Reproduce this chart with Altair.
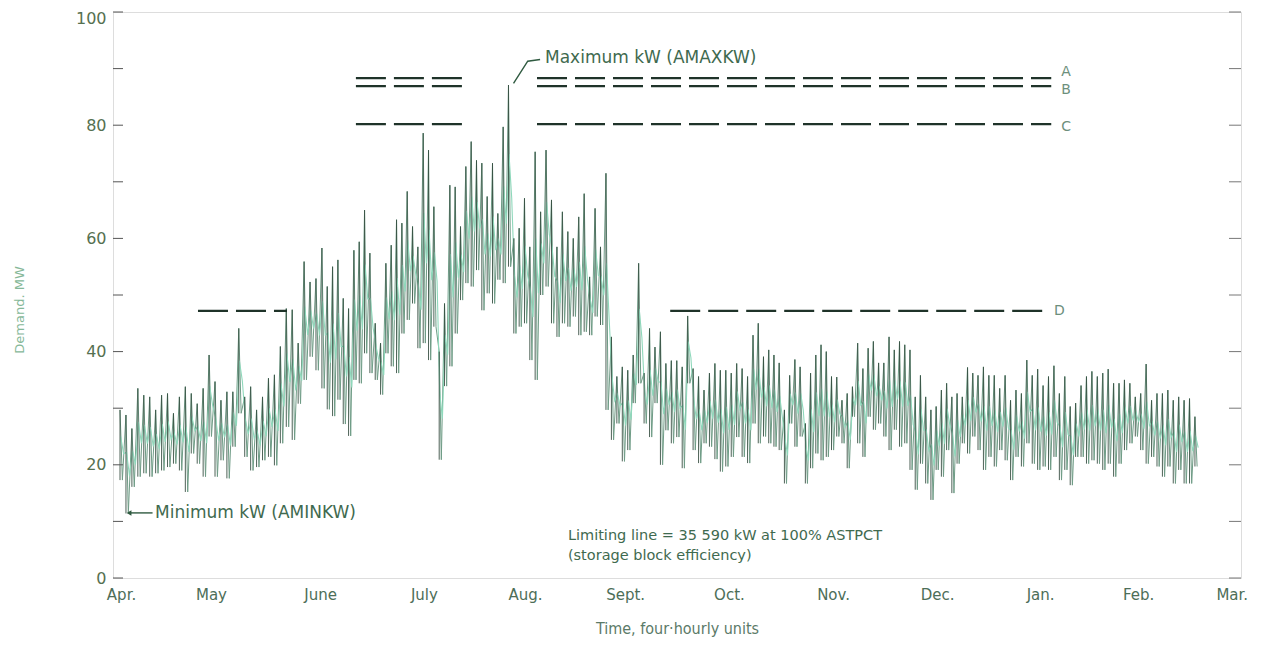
import altair as alt
import numpy as np
import pandas as pd

# ---------------- data ----------------
MONTHS = ["Apr.", "May", "June", "July", "Aug.", "Sept.", "Oct.", "Nov.",
          "Dec.", "Jan.", "Feb.", "Mar."]
MONTH_DAY = [2.6, 31.7, 67.0, 100.6, 133.3, 165.7, 199.3, 233.0, 266.7,
             300.0, 331.7, 362.0]

# daily peaks and troughs (MW), one pair per spike
HIGH = [29.7, 28.8, 26.4, 33.5, 32.3, 32.0, 29.7, 32.3, 32.6, 29.1,
        32.0, 33.8, 32.6, 30.8, 33.5, 39.4, 34.7, 31.4, 32.9, 32.9,
        44.1, 32.0, 33.8, 29.7, 32.0, 35.3, 35.9, 40.9, 47.6, 47.4,
        41.5, 55.9, 52.3, 52.9, 58.3,
        51.5, 55.0, 56.2, 49.4, 47.6, 57.9, 59.4, 65.0, 57.4, 45.0,
        41.5, 55.6, 58.8, 63.3, 62.7, 68.3, 62.1, 58.5, 78.6, 75.6,
        65.6, 40.0, 48.5, 69.4, 69.1, 62.1, 72.7, 77.1, 73.8, 73.3,
        67.4, 73.3, 64.4, 79.7, 87.1, 60.0, 61.8, 67.1, 58.5, 75.3,
        64.7, 75.6, 66.8, 58.5, 64.7, 61.2, 60.0, 63.8, 67.9, 53.2,
        65.3, 58.5, 71.5, 42.6, 35.6, 37.3, 36.7, 39.4, 55.6, 36.2,
        44.1, 40.8, 43.5, 37.9, 38.4, 38.4, 37.3, 46.3, 37.0, 35.6,
        33.2, 36.2, 37.9, 36.7, 36.7, 36.2, 37.9, 37.0, 35.6, 42.9,
        45.0, 39.1, 40.3, 39.4, 38.0, 29.7, 35.8, 38.6, 37.3, 27.3,
        36.2, 39.4, 41.2, 40.0, 35.6, 35.5, 31.4, 32.6, 33.8, 41.5,
        37.0, 40.6, 41.8, 38.0, 38.0, 42.6, 40.3, 41.8, 41.2, 40.3,
        32.0, 35.8, 32.0, 29.7, 30.3, 33.2, 34.4, 32.0, 32.6, 32.0,
        37.2, 36.2, 35.8,
        37.3, 35.8, 35.8, 33.5, 35.8, 31.4, 33.2, 32.6, 38.5, 35.8,
        36.9, 34.0, 35.6, 37.5, 32.6, 35.6, 30.3, 30.9, 34.0, 35.6,
        36.5, 35.6, 36.2, 36.9, 34.4, 34.4, 35.0, 34.4, 32.0, 32.6,
        37.8, 31.4, 32.6, 32.6, 33.2, 31.4, 32.0, 31.4, 31.7, 28.5]

LOW = [17.3, 11.4, 16.1, 17.9, 18.5, 17.9, 18.5, 19.0, 19.6, 20.2,
       19.0, 15.2, 22.0, 20.2, 17.9, 25.0, 17.9, 20.8, 17.6, 23.2,
       29.1, 21.4, 19.0, 19.6, 20.8, 21.4, 19.9, 23.8, 26.7, 24.4,
       30.8, 35.0, 39.1, 36.7, 33.5,
       29.8, 28.6, 31.5, 27.2, 25.1, 35.0, 34.4, 39.7, 36.2, 35.0,
       32.4, 39.7, 37.4, 36.2, 43.2, 45.6, 48.5, 40.6, 41.5, 38.5,
       44.4, 20.9, 33.9, 37.4, 43.2, 49.1, 52.1, 51.5, 54.4, 47.3,
       50.3, 48.5, 52.7, 52.1, 55.0, 43.2, 44.4, 45.0, 38.5, 35.0,
       50.0, 51.5, 45.0, 42.6, 45.0, 44.4, 46.2, 42.9, 43.5, 42.9,
       46.2, 44.7, 29.7, 24.4, 27.3, 20.6, 22.6, 30.9, 34.4, 27.3,
       24.9, 30.9, 20.0, 26.1, 23.8, 24.9, 19.4, 34.4, 22.6, 20.3,
       23.8, 23.2, 21.0, 18.8, 19.7, 21.4, 24.9, 21.4, 20.3, 27.3,
       23.8, 25.0, 23.8, 23.2, 22.6, 16.7, 27.3, 23.2, 25.0, 16.7,
       19.4, 22.0, 20.8, 21.4, 22.6, 25.0, 23.8, 19.4, 28.5, 23.8,
       21.4, 28.5, 26.2, 27.3, 25.0, 22.6, 26.2, 23.2, 23.8, 19.1,
       15.6, 20.2, 16.7, 13.8, 19.1, 17.9, 22.6, 15.0, 20.2, 23.8,
       22.0, 25.0, 22.6,
       19.1, 21.4, 19.7, 22.6, 20.8, 17.3, 21.4, 19.7, 23.8, 20.2,
       19.1, 19.7, 19.1, 21.4, 17.3, 19.1, 16.4, 21.4, 21.4, 20.2,
       20.8, 20.2, 19.1, 20.2, 17.9, 20.2, 22.6, 23.8, 25.0, 22.6,
       20.2, 21.4, 19.7, 17.9, 19.7, 16.7, 19.1, 16.7, 16.7, 19.7]

# time (day from Apr. 1) of a few spikes, the rest lie evenly between them
ANCHOR_SPIKE = [0, 34, 74, 114, 157, 197]
ANCHOR_DAY = [2.27, 67.6, 136.6, 207.1, 279.9, 350.1]

REF_NAMES = ["A", "B", "C", "D"]
REF_VALUES = [88.3, 86.9, 80.2, 47.2]
REF_SEGMENTS = {"A": [(78.6, 113.3), (137.2, 303.6)],
                "B": [(78.6, 113.3), (137.2, 303.6)],
                "C": [(78.6, 113.3), (137.2, 303.6)],
                "D": [(27.5, 56.3), (180.3, 301.6)]}
REF_LABEL_DAY = [306.8, 306.8, 306.8, 304.5]
REF_LABEL_VAL = [89.4, 86.2, 79.7, 47.2]

Y_TICKS = [0, 10, 20, 30, 40, 50, 60, 70, 80, 90, 100]
Y_LABELS = [0, 20, 40, 60, 80, 100]

assert len(HIGH) == len(LOW)
n = len(HIGH)
days = np.interp(np.arange(n), ANCHOR_SPIKE, ANCHOR_DAY)
step = np.gradient(days)

rows = []
for i in range(n):
    rows.append({"day": days[i], "mw": HIGH[i], "o": 2 * i})
    rows.append({"day": days[i] + 0.4 * step[i], "mw": LOW[i], "o": 2 * i + 1})
zig = pd.DataFrame(rows)
spikes = pd.DataFrame({"day": days, "hi": HIGH, "lo": LOW})

mid_rows = []
for i in range(n):
    r = HIGH[i] - LOW[i]
    mid_rows.append({"day": days[i] + 0.1 * step[i], "mw": LOW[i] + 0.62 * r, "o": 2 * i})
    mid_rows.append({"day": days[i] + 0.6 * step[i], "mw": LOW[i] + 0.38 * r, "o": 2 * i + 1})
mid = pd.DataFrame(mid_rows)

seg_rows = []
for name, val in zip(REF_NAMES, REF_VALUES):
    for a, b in REF_SEGMENTS[name]:
        seg_rows.append({"name": name, "v": val, "d0": a, "d1": b})
segs = pd.DataFrame(seg_rows)
ref_labels = pd.DataFrame({"name": REF_NAMES, "day": REF_LABEL_DAY, "v": REF_LABEL_VAL})

W, H = 1128, 566
xs = alt.Scale(domain=[0, 365], nice=False, zero=False)
ys = alt.Scale(domain=[0, 100], nice=False)

label_map = " : ".join([f"datum.value == {d} ? '{m}'" for d, m in zip(MONTH_DAY, MONTHS)]) + " : ''"

FONT = "DejaVu Sans"
TXT = "#3f6a4f"

x_enc = alt.X("day:Q", scale=xs,
              axis=alt.Axis(values=MONTH_DAY, labelExpr=label_map, ticks=False,
                            domain=False, grid=False, labelFlush=False,
                            labelOverlap=False, labelPadding=9, labelFont=FONT,
                            labelFontSize=15, labelColor="#4d6e58",
                            title="Time, four·hourly units", titleFont="DejaVu Sans Condensed",
                            titleFontSize=16, titleFontWeight="normal",
                            titleColor="#5b7a68", titlePadding=18))
y_enc = alt.Y("mw:Q", scale=ys,
              axis=alt.Axis(values=Y_LABELS, ticks=False, domain=False, grid=False,
                            labelPadding=7, labelFont=FONT, labelFontSize=16,
                            labelOffset={"expr": "datum.value == 100 ? 6 : 0"},
                            labelColor="#557050", title=None))

mint = alt.Chart(mid).mark_line(color="#8fd8bb", strokeWidth=1.1).encode(
    x=alt.X("day:Q", scale=xs), y=alt.Y("mw:Q", scale=ys), order="o:Q")

line = alt.Chart(zig).mark_line(color="#6f9c86", strokeWidth=1.0).encode(
    x=x_enc, y=y_enc, order="o:Q")

rules = alt.Chart(spikes).mark_rule(color="#2f463a", strokeWidth=1.0, opacity=0.85).encode(
    x=alt.X("day:Q", scale=xs), y=alt.Y("lo:Q", scale=ys), y2="hi:Q")

refs = alt.Chart(segs).mark_rule(color="#1f3329", strokeWidth=2.2, strokeDash=[30, 8]).encode(
    x=alt.X("d0:Q", scale=xs), x2="d1:Q", y=alt.Y("v:Q", scale=ys))

ref_text = alt.Chart(ref_labels).mark_text(align="left", baseline="middle", font=FONT,
                                           fontSize=14, color="#6d8f7c").encode(
    x=alt.X("day:Q", scale=xs), y=alt.Y("v:Q", scale=ys), text="name:N")

ANN_TEXT = ["Maximum kW (AMAXKW)", "Minimum kW (AMINKW)",
            "Limiting line = 35 590 kW at 100% ASTPCT", "(storage block efficiency)"]
ANN_DAY = [139.8, 13.6, 147.2, 147.2]
ANN_VAL = [91.9, 11.5, 7.4, 3.9]
ANN_SIZE = [17, 17, 14.5, 14.5]
ann = pd.DataFrame({"t": ANN_TEXT, "day": ANN_DAY, "v": ANN_VAL, "s": ANN_SIZE})
ann_text = alt.Chart(ann).mark_text(align="left", baseline="middle", font=FONT,
                                    color=TXT).encode(
    x=alt.X("day:Q", scale=xs), y=alt.Y("v:Q", scale=ys), text="t:N",
    size=alt.Size("s:Q", scale=None, legend=None))

LEAD_DAY = [138.2, 134.2, 129.6]
LEAD_VAL = [91.6, 91.3, 87.4]
lead = alt.Chart(pd.DataFrame({"day": LEAD_DAY, "v": LEAD_VAL, "o": [0, 1, 2]})).mark_line(
    color="#2f5a40", strokeWidth=1.4).encode(
    x=alt.X("day:Q", scale=xs), y=alt.Y("v:Q", scale=ys), order="o:Q")

ARROW_DAY = [12.8, 5.8]
ARROW_VAL = [11.5, 11.5]
arrow = alt.Chart(pd.DataFrame({"day": ARROW_DAY, "v": ARROW_VAL})).mark_line(
    color="#2f5a40", strokeWidth=1.4).encode(
    x=alt.X("day:Q", scale=xs), y=alt.Y("v:Q", scale=ys))
head = alt.Chart(pd.DataFrame({"day": [5.2], "v": [11.5]})).mark_point(
    shape="triangle-left", filled=True, size=30, color="#2f5a40", opacity=1).encode(
    x=alt.X("day:Q", scale=xs), y=alt.Y("v:Q", scale=ys))

ticks_df = pd.DataFrame({"v": Y_TICKS})
lt = alt.Chart(ticks_df).mark_rule(color="#555", strokeWidth=1).encode(
    y=alt.Y("v:Q", scale=ys), x=alt.value(0), x2=alt.value(10))
rt = alt.Chart(ticks_df).mark_rule(color="#777", strokeWidth=1).encode(
    y=alt.Y("v:Q", scale=ys), x=alt.value(W - 12), x2=alt.value(W))

ytitle = alt.Chart(pd.DataFrame({"t": ["Demand. MW"]})).mark_text(
    angle=270, font=FONT, fontSize=13, color="#86b898", baseline="middle",
    align="center").encode(text="t:N", x=alt.value(-93), y=alt.value(298))

chart = alt.layer(line, mint, rules, refs, ref_text, ann_text, lead, arrow, head,
                  lt, rt, ytitle).properties(
    width=W, height=H,
    autosize=alt.AutoSizeParams(type="none"),
    padding={"left": 105, "top": 4, "right": 20, "bottom": 60},
).configure_view(stroke="#6e6e6e", strokeWidth=1.5).configure(background="white")

chart.save("out.html", embed_options={"renderer": "svg", "actions": False})
